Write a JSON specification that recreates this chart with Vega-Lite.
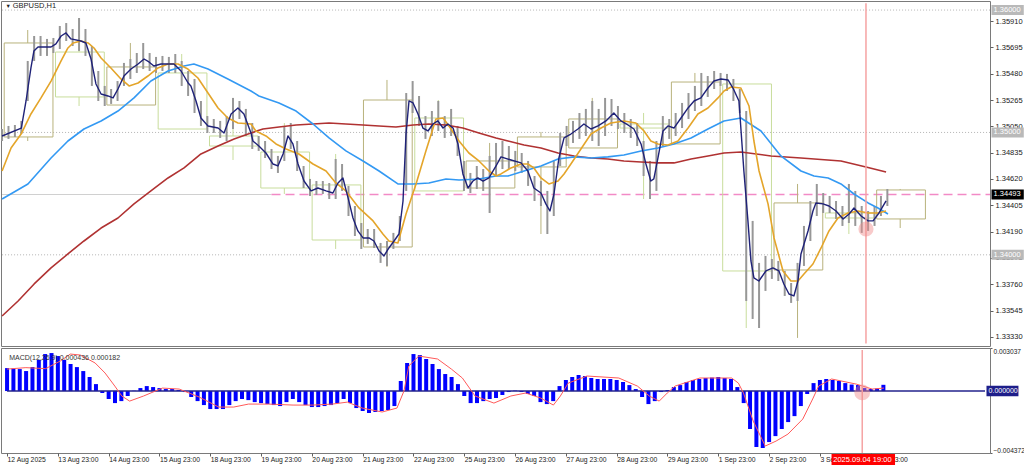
{
"$schema": "https://vega.github.io/schema/vega-lite/v6.json",
"padding": 0,
"background": "white",
"config": {"view": {"stroke": "#7a7a7a"}, "concat": {"spacing": 0}, "axis": {"labelFont": "Liberation Sans", "labelFontSize": 7.5, "labelColor": "#1a1a1a", "tickColor": "#606060", "grid": false}, "text": {"font": "Liberation Sans"}, "line": {"strokeJoin": "round", "strokeCap": "butt"}, "rule": {"strokeJoin": "round", "strokeCap": "butt"}},
"datasets": {
"levels": [{"t": 0, "t2": 462, "p": 1.36}, {"t": 0, "t2": 462, "p": 1.35}, {"t": 0, "t2": 462, "p": 1.34}],
"greyline": [{"t": 0, "t2": 126, "p": 1.34493}],
"pinkline": [{"t": 126, "t2": 462, "p": 1.34493}],
"boxes": [
{"t": 1, "t2": 23.8, "p": 1.35731, "p2": 1.34963, "k": "dark"},
{"t": 25, "t2": 47.8, "p": 1.35657, "p2": 1.3529, "k": "light"},
{"t": 49, "t2": 71.8, "p": 1.35535, "p2": 1.35224, "k": "dark"},
{"t": 73, "t2": 95.8, "p": 1.35486, "p2": 1.35028, "k": "light"},
{"t": 97, "t2": 119.8, "p": 1.34971, "p2": 1.34889, "k": "light"},
{"t": 121, "t2": 143.8, "p": 1.3484, "p2": 1.34546, "k": "light"},
{"t": 145, "t2": 167.8, "p": 1.34571, "p2": 1.34121, "k": "light"},
{"t": 169, "t2": 191.8, "p": 1.35265, "p2": 1.34064, "k": "dark"},
{"t": 193, "t2": 215.8, "p": 1.35118, "p2": 1.34522, "k": "light"},
{"t": 217, "t2": 239.8, "p": 1.34767, "p2": 1.34546, "k": "dark"},
{"t": 241, "t2": 263.8, "p": 1.34963, "p2": 1.34718, "k": "dark"},
{"t": 265, "t2": 287.8, "p": 1.3511, "p2": 1.34873, "k": "dark"},
{"t": 289, "t2": 311.8, "p": 1.35069, "p2": 1.35036, "k": "light"},
{"t": 313, "t2": 335.8, "p": 1.35412, "p2": 1.34906, "k": "dark"},
{"t": 337, "t2": 359.8, "p": 1.35396, "p2": 1.33868, "k": "light"},
{"t": 361, "t2": 383.8, "p": 1.34424, "p2": 1.33876, "k": "dark"},
{"t": 385, "t2": 407.8, "p": 1.34342, "p2": 1.34301, "k": "light"},
{"t": 409, "t2": 431.8, "p": 1.3453, "p2": 1.34293, "k": "dark"}],
"wicks": [
{"t": 12, "p": 1.35837, "p2": 1.35731, "k": "dark"}, {"t": 12, "p": 1.34963, "p2": 1.3493, "k": "dark"},
{"t": 36, "p": 1.35935, "p2": 1.35657, "k": "light"}, {"t": 36, "p": 1.3529, "p2": 1.35216, "k": "light"},
{"t": 60, "p": 1.35731, "p2": 1.35535, "k": "dark"},
{"t": 84, "p": 1.35641, "p2": 1.35486, "k": "light"},
{"t": 108, "p": 1.35282, "p2": 1.34971, "k": "light"}, {"t": 108, "p": 1.34889, "p2": 1.34775, "k": "light"},
{"t": 132, "p": 1.35077, "p2": 1.3484, "k": "light"}, {"t": 132, "p": 1.34546, "p2": 1.34497, "k": "light"},
{"t": 156, "p": 1.34824, "p2": 1.34571, "k": "light"}, {"t": 156, "p": 1.34121, "p2": 1.34048, "k": "light"},
{"t": 180, "p": 1.35429, "p2": 1.35265, "k": "dark"}, {"t": 180, "p": 1.34064, "p2": 1.33901, "k": "dark"},
{"t": 204, "p": 1.35265, "p2": 1.35118, "k": "light"},
{"t": 228, "p": 1.34914, "p2": 1.34767, "k": "dark"}, {"t": 228, "p": 1.34546, "p2": 1.34342, "k": "dark"},
{"t": 252, "p": 1.35004, "p2": 1.34963, "k": "dark"}, {"t": 252, "p": 1.34718, "p2": 1.3417, "k": "dark"},
{"t": 276, "p": 1.35282, "p2": 1.3511, "k": "dark"},
{"t": 300, "p": 1.35159, "p2": 1.35069, "k": "light"}, {"t": 300, "p": 1.35036, "p2": 1.34456, "k": "light"},
{"t": 324, "p": 1.35486, "p2": 1.35412, "k": "dark"},
{"t": 348, "p": 1.33868, "p2": 1.33402, "k": "light"},
{"t": 372, "p": 1.34579, "p2": 1.34424, "k": "dark"}, {"t": 372, "p": 1.33876, "p2": 1.33321, "k": "dark"},
{"t": 396, "p": 1.34579, "p2": 1.34342, "k": "light"}, {"t": 396, "p": 1.34301, "p2": 1.3417, "k": "light"},
{"t": 420, "p": 1.34538, "p2": 1.3453, "k": "dark"}, {"t": 420, "p": 1.34293, "p2": 1.34219, "k": "dark"}],
"candles": [
{"t":0,"p":1.35028,"p2":1.3493},{"t":3,"p":1.35053,"p2":1.34947},{"t":6,"p":1.35061,"p2":1.34963},{"t":9,"p":1.35094,"p2":1.34987},{"t":12,"p":1.35584,"p2":1.35257},{"t":15,"p":1.35788,"p2":1.35584},{"t":18,"p":1.35788,"p2":1.35625},{"t":21,"p":1.35764,"p2":1.35625},{"t":24,"p":1.35772,"p2":1.35649},{"t":27,"p":1.3587,"p2":1.35682},{"t":30,"p":1.35894,"p2":1.35747},{"t":33,"p":1.35845,"p2":1.35706},{"t":36,"p":1.35935,"p2":1.35666},{"t":39,"p":1.35845,"p2":1.35625},{"t":42,"p":1.35706,"p2":1.3538},{"t":45,"p":1.35502,"p2":1.35257},{"t":48,"p":1.3538,"p2":1.35216},{"t":51,"p":1.35355,"p2":1.35233},{"t":54,"p":1.3542,"p2":1.35257},{"t":57,"p":1.35568,"p2":1.3538},{"t":60,"p":1.356,"p2":1.35437},{"t":63,"p":1.35649,"p2":1.35486},{"t":66,"p":1.35731,"p2":1.35518},{"t":69,"p":1.35649,"p2":1.35502},{"t":72,"p":1.35617,"p2":1.35486},{"t":75,"p":1.35625,"p2":1.35502},{"t":78,"p":1.35617,"p2":1.35486},{"t":81,"p":1.35641,"p2":1.35486},{"t":84,"p":1.35584,"p2":1.3538},{"t":87,"p":1.35502,"p2":1.35298},{"t":90,"p":1.35437,"p2":1.35159},{"t":93,"p":1.35257,"p2":1.35053},{"t":96,"p":1.35134,"p2":1.34996},{"t":99,"p":1.3511,"p2":1.34996},{"t":102,"p":1.35094,"p2":1.34955},{"t":105,"p":1.35134,"p2":1.3493},{"t":108,"p":1.35282,"p2":1.35028},{"t":111,"p":1.35257,"p2":1.3511},{"t":114,"p":1.35192,"p2":1.34971},{"t":117,"p":1.35077,"p2":1.34865},{"t":120,"p":1.34971,"p2":1.34849},{"t":123,"p":1.3493,"p2":1.34791},{"t":126,"p":1.34865,"p2":1.34701},{"t":129,"p":1.34808,"p2":1.34669},{"t":132,"p":1.35053,"p2":1.34767},{"t":135,"p":1.35077,"p2":1.34865},{"t":138,"p":1.3493,"p2":1.34685},{"t":141,"p":1.34726,"p2":1.34546},{"t":144,"p":1.3462,"p2":1.34481},{"t":147,"p":1.34603,"p2":1.34489},{"t":150,"p":1.34603,"p2":1.34497},{"t":153,"p":1.34587,"p2":1.34456},{"t":156,"p":1.34783,"p2":1.34456},{"t":159,"p":1.34742,"p2":1.34522},{"t":162,"p":1.34563,"p2":1.34317},{"t":165,"p":1.34399,"p2":1.34154},{"t":168,"p":1.3426,"p2":1.34048},{"t":171,"p":1.34211,"p2":1.34089},{"t":174,"p":1.34211,"p2":1.34056},{"t":177,"p":1.34097,"p2":1.33934},{"t":180,"p":1.34113,"p2":1.33909},{"t":183,"p":1.34179,"p2":1.34048},{"t":186,"p":1.34317,"p2":1.34113},{"t":189,"p":1.35322,"p2":1.34522},{"t":192,"p":1.3542,"p2":1.35159},{"t":195,"p":1.35298,"p2":1.35053},{"t":198,"p":1.35134,"p2":1.34947},{"t":201,"p":1.35175,"p2":1.34971},{"t":204,"p":1.35257,"p2":1.35012},{"t":207,"p":1.35134,"p2":1.34955},{"t":210,"p":1.35192,"p2":1.34971},{"t":213,"p":1.35053,"p2":1.34808},{"t":216,"p":1.34767,"p2":1.34522},{"t":219,"p":1.34669,"p2":1.34505},{"t":222,"p":1.34726,"p2":1.34538},{"t":225,"p":1.34701,"p2":1.34522},{"t":228,"p":1.34808,"p2":1.34342},{"t":231,"p":1.34914,"p2":1.34644},{"t":234,"p":1.3493,"p2":1.34701},{"t":237,"p":1.34889,"p2":1.34701},{"t":240,"p":1.34849,"p2":1.34685},{"t":243,"p":1.34832,"p2":1.34669},{"t":246,"p":1.34767,"p2":1.34563},{"t":249,"p":1.34644,"p2":1.3444},{"t":252,"p":1.34603,"p2":1.34399},{"t":255,"p":1.34522,"p2":1.3417},{"t":258,"p":1.34767,"p2":1.34317},{"t":261,"p":1.34996,"p2":1.34726},{"t":264,"p":1.35053,"p2":1.34889},{"t":267,"p":1.35094,"p2":1.34914},{"t":270,"p":1.35159,"p2":1.34947},{"t":273,"p":1.35192,"p2":1.34971},{"t":276,"p":1.35257,"p2":1.3493},{"t":279,"p":1.35192,"p2":1.34889},{"t":282,"p":1.35282,"p2":1.34971},{"t":285,"p":1.35273,"p2":1.35053},{"t":288,"p":1.35216,"p2":1.35028},{"t":291,"p":1.35159,"p2":1.34996},{"t":294,"p":1.3511,"p2":1.34955},{"t":297,"p":1.35077,"p2":1.34889},{"t":300,"p":1.3493,"p2":1.34644},{"t":303,"p":1.34767,"p2":1.34456},{"t":306,"p":1.3493,"p2":1.34522},{"t":309,"p":1.35134,"p2":1.34889},{"t":312,"p":1.3511,"p2":1.34947},{"t":315,"p":1.35159,"p2":1.34971},{"t":318,"p":1.35241,"p2":1.35036},{"t":321,"p":1.35322,"p2":1.3511},{"t":324,"p":1.3538,"p2":1.35175},{"t":327,"p":1.35486,"p2":1.35216},{"t":330,"p":1.35461,"p2":1.3529},{"t":333,"p":1.35502,"p2":1.35355},{"t":336,"p":1.35486,"p2":1.3538},{"t":339,"p":1.35478,"p2":1.35339},{"t":342,"p":1.35437,"p2":1.35257},{"t":345,"p":1.35355,"p2":1.35159},{"t":348,"p":1.35175,"p2":1.33623},{"t":351,"p":1.34277,"p2":1.33476},{"t":354,"p":1.33934,"p2":1.33402},{"t":357,"p":1.33991,"p2":1.33705},{"t":360,"p":1.33966,"p2":1.33803},{"t":363,"p":1.3395,"p2":1.33786},{"t":366,"p":1.33868,"p2":1.33664},{"t":369,"p":1.3377,"p2":1.33607},{"t":372,"p":1.33934,"p2":1.33623},{"t":375,"p":1.34236,"p2":1.33909},{"t":378,"p":1.3444,"p2":1.34113},{"t":381,"p":1.34579,"p2":1.34317},{"t":384,"p":1.34505,"p2":1.34342},{"t":387,"p":1.34481,"p2":1.34342},{"t":390,"p":1.3444,"p2":1.34293},{"t":393,"p":1.34399,"p2":1.34236},{"t":396,"p":1.34579,"p2":1.3426},{"t":399,"p":1.34522,"p2":1.34236},{"t":402,"p":1.34399,"p2":1.34179},{"t":405,"p":1.34358,"p2":1.34195},{"t":408,"p":1.34399,"p2":1.34236},{"t":411,"p":1.34481,"p2":1.34317},{"t":414,"p":1.34538,"p2":1.34399}],
"navy": [{"t":0,"p":1.34971},{"t":9,"p":1.35036},{"t":11.2,"p":1.35257},{"t":13.5,"p":1.35527},{"t":14.9,"p":1.35666},{"t":16.8,"p":1.35698},{"t":22.9,"p":1.35698},{"t":25.2,"p":1.35723},{"t":27.6,"p":1.35788},{"t":29.9,"p":1.35813},{"t":32.2,"p":1.35764},{"t":36.9,"p":1.35747},{"t":39.2,"p":1.35731},{"t":41.6,"p":1.356},{"t":43.9,"p":1.35396},{"t":46.3,"p":1.35314},{"t":49.5,"p":1.35298},{"t":51.9,"p":1.35282},{"t":54.2,"p":1.35355},{"t":57,"p":1.35461},{"t":60.3,"p":1.35518},{"t":63.6,"p":1.35559},{"t":66.4,"p":1.356},{"t":68.7,"p":1.35576},{"t":71,"p":1.35543},{"t":74.3,"p":1.35559},{"t":80.4,"p":1.35559},{"t":83.7,"p":1.35502},{"t":87,"p":1.35404},{"t":88.3,"p":1.3538},{"t":90.7,"p":1.35257},{"t":93,"p":1.35118},{"t":96.3,"p":1.35053},{"t":101,"p":1.35036},{"t":103.8,"p":1.34996},{"t":107.1,"p":1.35151},{"t":110.3,"p":1.352},{"t":113.1,"p":1.35151},{"t":116.4,"p":1.34996},{"t":117.3,"p":1.3493},{"t":120.1,"p":1.34889},{"t":123.4,"p":1.34832},{"t":126.7,"p":1.34742},{"t":129,"p":1.34726},{"t":131.4,"p":1.34824},{"t":133.7,"p":1.34971},{"t":136,"p":1.34906},{"t":138.4,"p":1.34742},{"t":141.2,"p":1.34603},{"t":144.5,"p":1.34522},{"t":147.7,"p":1.34546},{"t":151.5,"p":1.34522},{"t":154.7,"p":1.34505},{"t":157.1,"p":1.34587},{"t":159.4,"p":1.34628},{"t":161.8,"p":1.34465},{"t":164.1,"p":1.34301},{"t":166.4,"p":1.34195},{"t":168.8,"p":1.34138},{"t":171.6,"p":1.34138},{"t":173.9,"p":1.34113},{"t":176.3,"p":1.34031},{"t":178.6,"p":1.33991},{"t":180.9,"p":1.34056},{"t":183.3,"p":1.34113},{"t":185.6,"p":1.3417},{"t":187.5,"p":1.3444},{"t":188.9,"p":1.34987},{"t":190.3,"p":1.35257},{"t":192.2,"p":1.35241},{"t":194.5,"p":1.35151},{"t":196.8,"p":1.35036},{"t":199.2,"p":1.35012},{"t":201.5,"p":1.35069},{"t":203.8,"p":1.35094},{"t":206.2,"p":1.35036},{"t":208.5,"p":1.35069},{"t":210.9,"p":1.35036},{"t":213.2,"p":1.34906},{"t":215.5,"p":1.34661},{"t":217.9,"p":1.34546},{"t":220.2,"p":1.34603},{"t":222.5,"p":1.34628},{"t":224.9,"p":1.34603},{"t":227.7,"p":1.34628},{"t":231,"p":1.34726},{"t":233.3,"p":1.348},{"t":238,"p":1.34775},{"t":242.7,"p":1.34751},{"t":245.9,"p":1.34685},{"t":248.7,"p":1.34546},{"t":252,"p":1.34505},{"t":254.3,"p":1.34416},{"t":256.2,"p":1.34358},{"t":258.1,"p":1.34497},{"t":260.4,"p":1.34791},{"t":262.8,"p":1.34955},{"t":266,"p":1.34987},{"t":269.3,"p":1.35028},{"t":272.1,"p":1.35069},{"t":275.4,"p":1.35028},{"t":278.7,"p":1.35053},{"t":282.4,"p":1.35094},{"t":286.1,"p":1.35159},{"t":289.4,"p":1.35094},{"t":292.7,"p":1.35061},{"t":295.5,"p":1.35028},{"t":298.8,"p":1.34906},{"t":301.1,"p":1.34742},{"t":303.4,"p":1.34603},{"t":304.8,"p":1.3462},{"t":306.7,"p":1.34791},{"t":309.1,"p":1.35012},{"t":311.4,"p":1.35053},{"t":314.2,"p":1.35036},{"t":317.5,"p":1.35118},{"t":320.8,"p":1.352},{"t":323.6,"p":1.35257},{"t":326.8,"p":1.35282},{"t":330.1,"p":1.35363},{"t":332.9,"p":1.3542},{"t":336.2,"p":1.35437},{"t":339.5,"p":1.35429},{"t":341.8,"p":1.35363},{"t":344.6,"p":1.35257},{"t":346.9,"p":1.34685},{"t":348.8,"p":1.34277},{"t":350.2,"p":1.3395},{"t":351.6,"p":1.33811},{"t":353.9,"p":1.33786},{"t":357.2,"p":1.33868},{"t":360.5,"p":1.33893},{"t":363.3,"p":1.33868},{"t":365.6,"p":1.33762},{"t":368,"p":1.3368},{"t":370.3,"p":1.33664},{"t":372.2,"p":1.33786},{"t":373.6,"p":1.34007},{"t":376.9,"p":1.34195},{"t":379.2,"p":1.34358},{"t":380.6,"p":1.34424},{"t":383.9,"p":1.34416},{"t":386.7,"p":1.34399},{"t":390,"p":1.34358},{"t":393.3,"p":1.34293},{"t":396.1,"p":1.34334},{"t":398.4,"p":1.34383},{"t":401.7,"p":1.34317},{"t":405,"p":1.34277},{"t":407.3,"p":1.34277},{"t":410.1,"p":1.34342},{"t":413.4,"p":1.3444}],
"orange": [{"t":0,"p":1.34685},{"t":4.2,"p":1.34873},{"t":8.9,"p":1.34987},{"t":13.5,"p":1.35151},{"t":18.2,"p":1.35282},{"t":22.9,"p":1.3542},{"t":27.6,"p":1.35584},{"t":30.8,"p":1.3569},{"t":33.2,"p":1.35731},{"t":36.9,"p":1.35747},{"t":40.2,"p":1.35731},{"t":43,"p":1.3569},{"t":46.3,"p":1.35608},{"t":50.9,"p":1.35527},{"t":55.6,"p":1.35437},{"t":59.4,"p":1.3538},{"t":63.6,"p":1.35404},{"t":68.2,"p":1.35461},{"t":72.9,"p":1.35527},{"t":77.6,"p":1.35559},{"t":82.3,"p":1.35559},{"t":86.9,"p":1.35518},{"t":91.6,"p":1.35445},{"t":96.3,"p":1.35322},{"t":101,"p":1.352},{"t":105.6,"p":1.35118},{"t":110.3,"p":1.35077},{"t":116.4,"p":1.35069},{"t":118.7,"p":1.35012},{"t":123.4,"p":1.34971},{"t":128.1,"p":1.34906},{"t":132.8,"p":1.34865},{"t":138.8,"p":1.34824},{"t":145.4,"p":1.34742},{"t":151.5,"p":1.34685},{"t":156.1,"p":1.34587},{"t":160.8,"p":1.34522},{"t":166.9,"p":1.34383},{"t":173.5,"p":1.34277},{"t":178.1,"p":1.3417},{"t":180.9,"p":1.34113},{"t":185.1,"p":1.34097},{"t":188.9,"p":1.34334},{"t":193.6,"p":1.34579},{"t":198.2,"p":1.34849},{"t":202.9,"p":1.3511},{"t":206.2,"p":1.35118},{"t":209,"p":1.35053},{"t":213.7,"p":1.3493},{"t":218.3,"p":1.34832},{"t":223,"p":1.34767},{"t":227.7,"p":1.34685},{"t":231,"p":1.34644},{"t":233.3,"p":1.34661},{"t":238,"p":1.3471},{"t":242.7,"p":1.34742},{"t":245.9,"p":1.34742},{"t":248.7,"p":1.3471},{"t":252,"p":1.34628},{"t":255.7,"p":1.34579},{"t":260,"p":1.34603},{"t":262.8,"p":1.34661},{"t":266,"p":1.34742},{"t":270.7,"p":1.34865},{"t":275.4,"p":1.34987},{"t":280.1,"p":1.35036},{"t":284.7,"p":1.35077},{"t":290.8,"p":1.35094},{"t":296.4,"p":1.35077},{"t":300.2,"p":1.35012},{"t":303.4,"p":1.3493},{"t":306.7,"p":1.34906},{"t":311.4,"p":1.34898},{"t":316.1,"p":1.3493},{"t":320.8,"p":1.35036},{"t":325.4,"p":1.35151},{"t":330.1,"p":1.352},{"t":334.8,"p":1.35282},{"t":337.6,"p":1.35339},{"t":340.9,"p":1.35371},{"t":345.5,"p":1.35363},{"t":349.3,"p":1.35216},{"t":351.6,"p":1.3493},{"t":354,"p":1.34685},{"t":358.2,"p":1.34416},{"t":361,"p":1.34138},{"t":365.2,"p":1.33868},{"t":368.9,"p":1.33786},{"t":372.2,"p":1.33786},{"t":375,"p":1.33844},{"t":379.2,"p":1.33925},{"t":383,"p":1.34056},{"t":386.7,"p":1.34195},{"t":390.9,"p":1.34301},{"t":395.6,"p":1.34342},{"t":400.3,"p":1.34358},{"t":405,"p":1.34342},{"t":409.6,"p":1.34342},{"t":413.4,"p":1.34358}],
"blue": [{"t":0,"p":1.34456},{"t":12.1,"p":1.34579},{"t":22.9,"p":1.34791},{"t":30.8,"p":1.3493},{"t":38.3,"p":1.35028},{"t":46.3,"p":1.35094},{"t":54.2,"p":1.35175},{"t":61.7,"p":1.35282},{"t":69.6,"p":1.3542},{"t":77.6,"p":1.35502},{"t":85.1,"p":1.35543},{"t":89.7,"p":1.35559},{"t":96.3,"p":1.35518},{"t":105.6,"p":1.35437},{"t":116.4,"p":1.35339},{"t":120.1,"p":1.35298},{"t":129.5,"p":1.35241},{"t":137.5,"p":1.35175},{"t":145.4,"p":1.35069},{"t":152.9,"p":1.34955},{"t":160.8,"p":1.34849},{"t":168.8,"p":1.34767},{"t":176.3,"p":1.34685},{"t":185.1,"p":1.34579},{"t":192.2,"p":1.34579},{"t":199.6,"p":1.34587},{"t":207.6,"p":1.3462},{"t":213.7,"p":1.34612},{"t":223,"p":1.3462},{"t":231,"p":1.34644},{"t":236.6,"p":1.34644},{"t":244.1,"p":1.34685},{"t":252,"p":1.34726},{"t":260,"p":1.34783},{"t":267.5,"p":1.348},{"t":275.4,"p":1.34791},{"t":283.3,"p":1.348},{"t":290.8,"p":1.34816},{"t":298.8,"p":1.34849},{"t":306.7,"p":1.34873},{"t":314.2,"p":1.34906},{"t":322.2,"p":1.34955},{"t":330.1,"p":1.35028},{"t":337.6,"p":1.35094},{"t":345.5,"p":1.35118},{"t":354.9,"p":1.35012},{"t":364.2,"p":1.34808},{"t":373.6,"p":1.34685},{"t":379.7,"p":1.34644},{"t":386.3,"p":1.34628},{"t":392.3,"p":1.34579},{"t":398.4,"p":1.34497},{"t":405,"p":1.34424},{"t":409.6,"p":1.34383},{"t":414.3,"p":1.34334}],
"red": [{"t":0,"p":1.335},{"t":7.5,"p":1.33623},{"t":15,"p":1.33762},{"t":22.9,"p":1.33893},{"t":30.8,"p":1.34007},{"t":38.3,"p":1.34113},{"t":46.3,"p":1.34219},{"t":54.2,"p":1.34301},{"t":61.7,"p":1.34416},{"t":69.6,"p":1.34522},{"t":77.6,"p":1.34628},{"t":85.1,"p":1.3471},{"t":93,"p":1.34824},{"t":101,"p":1.34889},{"t":108.5,"p":1.34947},{"t":116.4,"p":1.34996},{"t":122,"p":1.35028},{"t":129.5,"p":1.35045},{"t":137.5,"p":1.35061},{"t":145.4,"p":1.35069},{"t":152.9,"p":1.35077},{"t":160.8,"p":1.35069},{"t":168.8,"p":1.35061},{"t":176.3,"p":1.35053},{"t":184.2,"p":1.35045},{"t":192.2,"p":1.35061},{"t":199.6,"p":1.35069},{"t":207.6,"p":1.35061},{"t":215.5,"p":1.35036},{"t":223,"p":1.34996},{"t":231,"p":1.34955},{"t":236.6,"p":1.3493},{"t":244.1,"p":1.34898},{"t":252,"p":1.34873},{"t":260,"p":1.34832},{"t":267.5,"p":1.34808},{"t":275.4,"p":1.34791},{"t":283.3,"p":1.34783},{"t":290.8,"p":1.34767},{"t":298.8,"p":1.34759},{"t":306.7,"p":1.34751},{"t":314.2,"p":1.34751},{"t":322.2,"p":1.34783},{"t":330.1,"p":1.34808},{"t":337.6,"p":1.34832},{"t":345.5,"p":1.3484},{"t":359.6,"p":1.34808},{"t":373.6,"p":1.34791},{"t":392.3,"p":1.34767},{"t":404,"p":1.34718},{"t":413.4,"p":1.34677}],
"vline": [{"t": 404, "p": 1.36056, "p2": 1.33275}],
"circle": [{"t": 404, "p": 1.34211}],
"tri": [{"t": 1.6, "p": 1.36036, "lab": "▼"}],
"title": [{"t": 5, "p": 1.36033, "lab": "GBPUSD,H1"}],
"yrects_lvl": [{"t": 462.7, "t2": 477.8, "p": 1.36041, "p2": 1.35959}, {"t": 462.7, "t2": 477.8, "p": 1.35041, "p2": 1.34959}, {"t": 462.7, "t2": 477.8, "p": 1.34041, "p2": 1.33959}],
"yrects_bid": [{"t": 462.7, "t2": 477.8, "p": 1.34534, "p2": 1.34452}],
"ytexts": [{"t": 463.2, "p": 1.36, "lab": "1.36000"}, {"t": 463.2, "p": 1.35, "lab": "1.35000"}, {"t": 463.2, "p": 1.34493, "lab": "1.34493"}, {"t": 463.2, "p": 1.34, "lab": "1.34000"}],
"zero": [{"t": 0, "t2": 462, "v": 0}],
"hist": [{"t":0,"v":0.00162},{"t":3,"v":0.00159},{"t":6,"v":0.00155},{"t":9,"v":0.00141},{"t":12,"v":0.00169},{"t":15,"v":0.00219},{"t":18,"v":0.00261},{"t":21,"v":0.00268},{"t":24,"v":0.00247},{"t":27,"v":0.00219},{"t":30,"v":0.00191},{"t":33,"v":0.00169},{"t":36,"v":0.00141},{"t":39,"v":0.00099},{"t":42,"v":0.00049},{"t":45,"v":-0.00014},{"t":48,"v":-0.00056},{"t":51,"v":-0.00085},{"t":54,"v":-0.00071},{"t":57,"v":-0.00035},{"t":60,"v":0.00002},{"t":63,"v":0.00021},{"t":66,"v":0.00035},{"t":69,"v":0.00028},{"t":72,"v":0.00021},{"t":75,"v":0.00014},{"t":78,"v":0.00014},{"t":81,"v":0.00007},{"t":84,"v":-0.00007},{"t":87,"v":-0.00042},{"t":90,"v":-0.00071},{"t":93,"v":-0.00099},{"t":96,"v":-0.00127},{"t":99,"v":-0.00127},{"t":102,"v":-0.00127},{"t":105,"v":-0.00099},{"t":108,"v":-0.00071},{"t":111,"v":-0.00056},{"t":114,"v":-0.00064},{"t":117,"v":-0.00078},{"t":120,"v":-0.00085},{"t":123,"v":-0.00092},{"t":126,"v":-0.00099},{"t":129,"v":-0.00106},{"t":132,"v":-0.00078},{"t":135,"v":-0.00056},{"t":138,"v":-0.00078},{"t":141,"v":-0.00099},{"t":144,"v":-0.00113},{"t":147,"v":-0.00113},{"t":150,"v":-0.00106},{"t":153,"v":-0.00099},{"t":156,"v":-0.00085},{"t":159,"v":-0.00056},{"t":162,"v":-0.00085},{"t":165,"v":-0.0012},{"t":168,"v":-0.00141},{"t":171,"v":-0.00155},{"t":174,"v":-0.00148},{"t":177,"v":-0.00141},{"t":180,"v":-0.00134},{"t":183,"v":-0.00106},{"t":186,"v":0.00071},{"t":189,"v":0.00198},{"t":192,"v":0.00261},{"t":195,"v":0.00254},{"t":198,"v":0.00226},{"t":201,"v":0.00191},{"t":204,"v":0.00155},{"t":207,"v":0.0012},{"t":210,"v":0.00099},{"t":213,"v":0.00049},{"t":216,"v":-0.00035},{"t":219,"v":-0.00085},{"t":222,"v":-0.00085},{"t":225,"v":-0.00071},{"t":228,"v":-0.00056},{"t":231,"v":-0.00049},{"t":234,"v":-0.00028},{"t":237,"v":-0.00007},{"t":240,"v":0.00003},{"t":243,"v":-0.00007},{"t":246,"v":-0.00021},{"t":249,"v":-0.00035},{"t":252,"v":-0.00078},{"t":255,"v":-0.00092},{"t":258,"v":-0.00071},{"t":261,"v":0.00035},{"t":264,"v":0.00078},{"t":267,"v":0.00099},{"t":270,"v":0.00113},{"t":273,"v":0.00106},{"t":276,"v":0.00092},{"t":279,"v":0.00085},{"t":282,"v":0.00085},{"t":285,"v":0.00085},{"t":288,"v":0.00078},{"t":291,"v":0.00064},{"t":294,"v":0.00042},{"t":297,"v":0.00014},{"t":300,"v":-0.00042},{"t":303,"v":-0.00092},{"t":306,"v":-0.00071},{"t":309,"v":-0.00007},{"t":312,"v":0.00007},{"t":315,"v":0.00028},{"t":318,"v":0.00042},{"t":321,"v":0.00064},{"t":324,"v":0.00078},{"t":327,"v":0.00085},{"t":330,"v":0.00092},{"t":333,"v":0.00095},{"t":336,"v":0.00099},{"t":339,"v":0.00092},{"t":342,"v":0.00085},{"t":345,"v":0.00028},{"t":348,"v":-0.00085},{"t":351,"v":-0.00268},{"t":354,"v":-0.00395},{"t":357,"v":-0.00402},{"t":360,"v":-0.0036},{"t":363,"v":-0.00318},{"t":366,"v":-0.00268},{"t":369,"v":-0.00219},{"t":372,"v":-0.00177},{"t":375,"v":-0.00106},{"t":378,"v":-0.00021},{"t":381,"v":0.00056},{"t":384,"v":0.00078},{"t":387,"v":0.00085},{"t":390,"v":0.00078},{"t":393,"v":0.00071},{"t":396,"v":0.00056},{"t":399,"v":0.00046},{"t":402,"v":0.00042},{"t":405,"v":0.00021},{"t":408,"v":0.00014},{"t":411,"v":0.00018},{"t":414,"v":0.00044}],
"signal": [{"t":0,"v":0.00155},{"t":8.9,"v":0.00165},{"t":18.2,"v":0.00158},{"t":25.2,"v":0.00212},{"t":29.9,"v":0.00261},{"t":34.6,"v":0.00254},{"t":41.6,"v":0.00198},{"t":46.3,"v":0.00127},{"t":50.9,"v":0.00035},{"t":54.2,"v":-0.00035},{"t":57.9,"v":-0.00071},{"t":64.5,"v":-0.00035},{"t":73.4,"v":0.00021},{"t":81.3,"v":0.00014},{"t":90.7,"v":-0.00042},{"t":100,"v":-0.00113},{"t":107.1,"v":-0.00113},{"t":114.1,"v":-0.00092},{"t":123.4,"v":-0.00092},{"t":135.1,"v":-0.00099},{"t":144.5,"v":-0.00099},{"t":153.8,"v":-0.00092},{"t":160.8,"v":-0.00078},{"t":167.8,"v":-0.0012},{"t":177.2,"v":-0.00148},{"t":184.2,"v":-0.0012},{"t":187.5,"v":0},{"t":189.8,"v":0.00177},{"t":194.5,"v":0.00247},{"t":203.4,"v":0.00226},{"t":209.9,"v":0.00155},{"t":215.1,"v":0.00092},{"t":221.1,"v":-0.00035},{"t":230,"v":-0.00085},{"t":238,"v":-0.00035},{"t":245,"v":-0.00014},{"t":252,"v":-0.00049},{"t":258.1,"v":-0.00099},{"t":261.4,"v":-0.00035},{"t":265.1,"v":0.00056},{"t":274,"v":0.00106},{"t":289,"v":0.00092},{"t":297.8,"v":0.00035},{"t":303.4,"v":-0.00035},{"t":308.1,"v":-0.00071},{"t":311.9,"v":-0.00014},{"t":315.6,"v":0.00035},{"t":327.3,"v":0.00092},{"t":342.3,"v":0.00092},{"t":345.5,"v":0.00056},{"t":347.9,"v":-0.00014},{"t":352.5,"v":-0.00212},{"t":358.2,"v":-0.00388},{"t":363.3,"v":-0.00353},{"t":368.9,"v":-0.00304},{"t":375.9,"v":-0.00198},{"t":380.6,"v":-0.00056},{"t":383.4,"v":0.00035},{"t":389.5,"v":0.00085},{"t":401.2,"v":0.00049},{"t":408.7,"v":0.00014},{"t":414.3,"v":0.00021}],
"mvline": [{"t": 404, "v": 0.0029, "v2": -0.004372}],
"mcircle": [{"t": 404, "v": -0.0001}],
"mlabel": [{"t": 1, "v": 0.00233, "lab": "MACD(12,26,9) 0.000436 0.000182"}],
"zrect": [{"t": 462.7, "t2": 477.8, "v": 0.00037, "v2": -0.00037}],
"ztext": [{"t": 463.2, "v": 0, "lab": "0.000000"}],
"drect": [{"t": 389.5, "t2": 419.5, "v": -0.004445, "v2": -0.005221}],
"dtext": [{"t": 390.3, "v": -0.004833, "lab": "2025.09.04 19:00"}]
},
"vconcat": [
{
"width": 989, "height": 345,
"encoding": {
"x": {"field": "t", "type": "quantitative", "scale": {"domain": [-0.5, 462], "nice": false, "zero": false}, "axis": null},
"y": {"field": "p", "type": "quantitative", "scale": {"domain": [1.33255, 1.36074], "nice": false, "zero": false}, "axis": {"orient": "right", "title": null, "values": [1.3591, 1.35695, 1.3548, 1.35265, 1.3505, 1.34835, 1.3462, 1.34405, 1.3419, 1.33975, 1.3376, 1.33545, 1.3333], "format": ".5f", "tickSize": 3, "labelPadding": 2, "domain": false, "labelFlush": false}}
},
"layer": [
{"data": {"name": "levels"}, "mark": {"type": "rule", "color": "#b5b5b5", "strokeDash": [1, 2], "strokeWidth": 1}, "encoding": {"x2": {"field": "t2"}}},
{"data": {"name": "greyline"}, "mark": {"type": "rule", "color": "#d0d0d0", "strokeWidth": 1}, "encoding": {"x2": {"field": "t2"}}},
{"data": {"name": "pinkline"}, "mark": {"type": "rule", "color": "#f28ac6", "strokeDash": [9, 5], "strokeWidth": 1.5}, "encoding": {"x2": {"field": "t2"}}},
{"data": {"name": "boxes"}, "mark": {"type": "rect", "filled": false, "strokeWidth": 1}, "encoding": {"x2": {"field": "t2"}, "y2": {"field": "p2"}, "color": {"field": "k", "type": "nominal", "scale": {"domain": ["dark", "light"], "range": ["#b8b27c", "#c8dd9c"]}, "legend": null}}},
{"data": {"name": "wicks"}, "mark": {"type": "rule", "strokeWidth": 1}, "encoding": {"y2": {"field": "p2"}, "color": {"field": "k", "type": "nominal", "scale": {"domain": ["dark", "light"], "range": ["#b8b27c", "#c8dd9c"]}, "legend": null}}},
{"data": {"name": "candles"}, "mark": {"type": "rule", "color": "#979797", "strokeWidth": 2}, "encoding": {"y2": {"field": "p2"}}},
{"data": {"name": "red"}, "mark": {"type": "line", "color": "#b03232", "strokeWidth": 1.6}, "encoding": {}},
{"data": {"name": "blue"}, "mark": {"type": "line", "color": "#3399f3", "strokeWidth": 1.6}, "encoding": {}},
{"data": {"name": "orange"}, "mark": {"type": "line", "color": "#e4a52a", "strokeWidth": 1.6}, "encoding": {}},
{"data": {"name": "navy"}, "mark": {"type": "line", "color": "#1f2278", "strokeWidth": 1.4}, "encoding": {}},
{"data": {"name": "vline"}, "mark": {"type": "rule", "color": "#f5a3a3", "strokeWidth": 1.5}, "encoding": {"y2": {"field": "p2"}}},
{"data": {"name": "circle"}, "mark": {"type": "point", "filled": true, "color": "#f08a8a", "opacity": 0.45, "size": 230}, "encoding": {}},
{"data": {"name": "tri"}, "mark": {"type": "text", "fontSize": 5.5, "align": "left", "baseline": "middle", "color": "#222"}, "encoding": {"text": {"field": "lab"}}},
{"data": {"name": "title"}, "mark": {"type": "text", "fontSize": 7.5, "align": "left", "baseline": "middle", "color": "#222"}, "encoding": {"text": {"field": "lab"}}},
{"data": {"name": "yrects_lvl"}, "mark": {"type": "rect", "color": "#b9b9b9"}, "encoding": {"x2": {"field": "t2"}, "y2": {"field": "p2"}}},
{"data": {"name": "yrects_bid"}, "mark": {"type": "rect", "color": "#000000"}, "encoding": {"x2": {"field": "t2"}, "y2": {"field": "p2"}}},
{"data": {"name": "ytexts"}, "mark": {"type": "text", "fontSize": 7.5, "align": "left", "baseline": "middle", "color": "#ffffff", "dx": 1}, "encoding": {"text": {"field": "lab"}}}
]
},
{
"width": 989, "height": 105,
"encoding": {
"x": {"field": "t", "type": "quantitative", "scale": {"domain": [-0.5, 462], "nice": false, "zero": false}, "axis": {"orient": "bottom", "title": null, "values": [0, 24, 48, 72, 96, 120, 144, 168, 192, 216, 240, 264, 288, 312, 336, 360, 384, 408], "labelExpr": "['12 Aug 2025','13 Aug 23:00','14 Aug 23:00','15 Aug 23:00','18 Aug 23:00','19 Aug 23:00','20 Aug 23:00','21 Aug 23:00','22 Aug 23:00','25 Aug 23:00','26 Aug 23:00','27 Aug 23:00','28 Aug 23:00','29 Aug 23:00','1 Sep 23:00','2 Sep 23:00','3 Sep 23:00','4 Sep 23:00'][round(datum.value/24)]", "labelAlign": "left", "labelPadding": 0, "labelFontSize": 6.8, "tickSize": 3, "domain": false, "labelFlush": false, "labelOverlap": false, "labelBound": false}},
"y": {"field": "v", "type": "quantitative", "scale": {"domain": [-0.004372, 0.003037], "nice": false, "zero": false}, "axis": {"orient": "right", "title": null, "values": [-0.004372, 0.003037], "format": ".6f", "labelFontSize": 6.6, "tickSize": 2, "labelPadding": 1, "domain": false, "labelFlush": true}}
},
"layer": [
{"data": {"name": "hist"}, "mark": {"type": "bar", "color": "#0000ff", "size": 4}, "encoding": {"y2": {"datum": 0}}},
{"data": {"name": "zero"}, "mark": {"type": "rule", "color": "#23238c", "strokeWidth": 1.5}, "encoding": {"x2": {"field": "t2"}}},
{"data": {"name": "signal"}, "mark": {"type": "line", "color": "#ff5a5a", "strokeWidth": 1}, "encoding": {}},
{"data": {"name": "mvline"}, "mark": {"type": "rule", "color": "#f5a3a3", "strokeWidth": 1.5}, "encoding": {"y2": {"field": "v2"}}},
{"data": {"name": "mcircle"}, "mark": {"type": "point", "filled": true, "color": "#f08a8a", "opacity": 0.45, "size": 250}, "encoding": {}},
{"data": {"name": "mlabel"}, "mark": {"type": "text", "fontSize": 7, "align": "left", "baseline": "middle", "color": "#333"}, "encoding": {"text": {"field": "lab"}}},
{"data": {"name": "zrect"}, "mark": {"type": "rect", "color": "#1e1e8a"}, "encoding": {"x2": {"field": "t2"}, "y2": {"field": "v2"}}},
{"data": {"name": "ztext"}, "mark": {"type": "text", "fontSize": 7, "align": "left", "baseline": "middle", "color": "#ffffff", "dx": 1}, "encoding": {"text": {"field": "lab"}}},
{"data": {"name": "drect"}, "mark": {"type": "rect", "color": "#ff0000"}, "encoding": {"x2": {"field": "t2"}, "y2": {"field": "v2"}}},
{"data": {"name": "dtext"}, "mark": {"type": "text", "fontSize": 7.5, "align": "left", "baseline": "middle", "color": "#ffffff"}, "encoding": {"text": {"field": "lab"}}}
]
}
]
}
